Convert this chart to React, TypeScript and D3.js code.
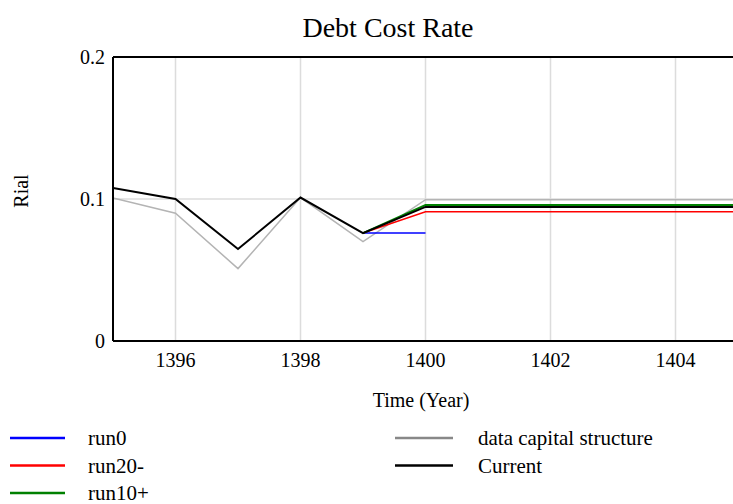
import React from 'react';
import { scaleLinear, line } from 'd3';

const W = 733;
const H = 504;

const years = [1395, 1396, 1397, 1398, 1399, 1400, 1401, 1402, 1403, 1404, 1405, 1406];
const xTicks = [1396, 1398, 1400, 1402, 1404];
const yTicks = [0, 0.1, 0.2];

const dataCapital = [0.1007, 0.09, 0.051, 0.101, 0.07, 0.0995, 0.0995, 0.0995, 0.0995, 0.0995, 0.0995, 0.0995];
const current = [0.1077, 0.1, 0.0648, 0.101, 0.076, 0.0944, 0.0944, 0.0944, 0.0944, 0.0944, 0.0944, 0.0944];
const run0Years = [1399, 1400];
const run0 = [0.076, 0.076];
const runYears = [1399, 1400, 1401, 1402, 1403, 1404, 1405, 1406];
const run20 = [0.076, 0.091, 0.091, 0.091, 0.091, 0.091, 0.091, 0.091];
const run10 = [0.076, 0.0958, 0.0958, 0.0958, 0.0958, 0.0958, 0.0958, 0.0958];

type Series = { name: string; color: string; xs: number[]; ys: number[]; width: number };

const series: Series[] = [
  { name: 'data capital structure', color: '#b4b4b4', xs: years, ys: dataCapital, width: 1.5 },
  { name: 'run0', color: '#0000ff', xs: run0Years, ys: run0, width: 1.5 },
  { name: 'run20-', color: '#ff0000', xs: runYears, ys: run20, width: 1.5 },
  { name: 'run10+', color: '#008000', xs: runYears, ys: run10, width: 2 },
  { name: 'Current', color: '#000000', xs: years, ys: current, width: 2 },
];

const legendLeft = ['run0', 'run20-', 'run10+'];
const legendRight = ['data capital structure', 'Current'];

export default function App() {
  const left = 113;
  const top = 57;
  const bottom = 341;
  const x = scaleLinear().domain([1395, 1396]).range([left, left + 62.5]);
  const y = scaleLinear().domain([0, 0.2]).range([bottom, top]);
  const font = '"Liberation Serif", "Times New Roman", serif';

  const colorOf = (n: string) => series.find(s => s.name === n)!.color;

  return (
    <svg width={W} height={H} style={{ position: 'absolute', left: 0, top: 0, background: '#fff' }} fontFamily={font}>
      <defs>
        <clipPath id="plot">
          <rect x={left} y={top - 5} width={W - left} height={bottom - top + 10} />
        </clipPath>
      </defs>
      <text x={388} y={37} textAnchor="middle" fontSize={28}>Debt Cost Rate</text>

      {xTicks.map(t => (
        <line key={t} x1={x(t)} x2={x(t)} y1={top} y2={bottom} stroke="#dcdcdc" strokeWidth={1.5} />
      ))}
      {yTicks.filter(t => t > 0 && t < 0.2).map(t => (
        <line key={t} x1={left} x2={W} y1={y(t)} y2={y(t)} stroke="#dcdcdc" strokeWidth={1.5} />
      ))}

      <g clipPath="url(#plot)">
        {series.map(s => {
          const pts = s.xs.map((v, i) => [v, s.ys[i]] as [number, number]);
          const d = line<[number, number]>().x(p => x(p[0])).y(p => y(p[1]))(pts) ?? '';
          return <path key={s.name} d={d} fill="none" stroke={s.color} strokeWidth={s.width} />;
        })}
      </g>

      <line x1={left} x2={left} y1={top} y2={bottom} stroke="#000" strokeWidth={2} />
      <line x1={left} x2={W} y1={top} y2={top} stroke="#000" strokeWidth={2} />
      <line x1={left} x2={W} y1={bottom} y2={bottom} stroke="#000" strokeWidth={2} />

      {yTicks.map(t => (
        <text key={t} x={105} y={y(t) + 7} textAnchor="end" fontSize={20}>{t === 0 ? '0' : String(t)}</text>
      ))}
      {xTicks.map(t => (
        <text key={t} x={x(t)} y={367} textAnchor="middle" fontSize={20}>{t}</text>
      ))}
      <text x={421} y={407} textAnchor="middle" fontSize={20}>Time (Year)</text>
      <text transform="translate(28,191) rotate(-90)" textAnchor="middle" fontSize={20}>Rial</text>

      {legendLeft.map((n, i) => (
        <g key={n}>
          <line x1={10} x2={65} y1={438 + i * 27.5} y2={438 + i * 27.5} stroke={colorOf(n)} strokeWidth={2.5} />
          <text x={88} y={445 + i * 27.5} fontSize={21}>{n}</text>
        </g>
      ))}
      {legendRight.map((n, i) => (
        <g key={n}>
          <line x1={395} x2={453} y1={438 + i * 27.5} y2={438 + i * 27.5} stroke={n === 'Current' ? '#000' : '#888'} strokeWidth={2.5} />
          <text x={478} y={445 + i * 27.5} fontSize={21}>{n}</text>
        </g>
      ))}
    </svg>
  );
}
